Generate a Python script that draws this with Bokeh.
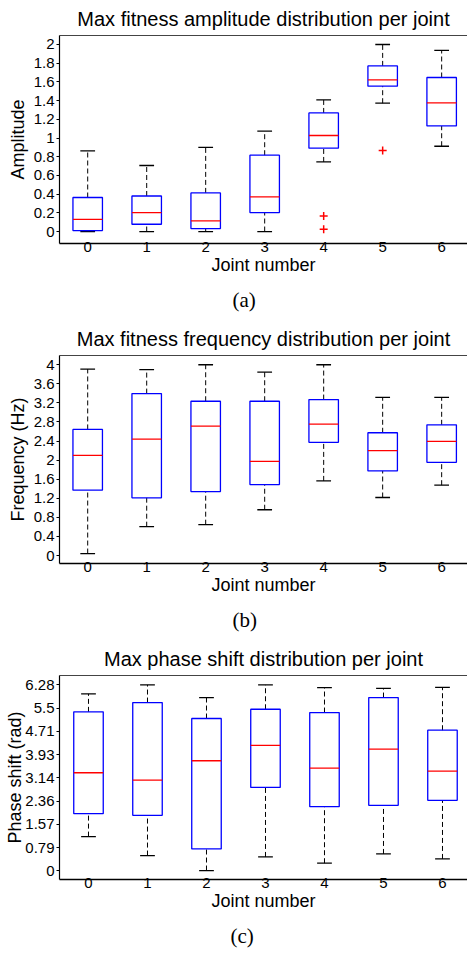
import numpy as np
from bokeh.plotting import figure
from bokeh.layouts import column
from bokeh.models import FixedTicker, LinearAxis, Title, Range1d
from bokeh.embed import file_html
from bokeh.resources import INLINE

joints = [0, 1, 2, 3, 4, 5, 6]

# (a) amplitude
amp_q1 = [0.010, 0.078, 0.032, 0.203, 0.891, 1.554, 1.129]
amp_med = [0.130, 0.203, 0.113, 0.370, 1.027, 1.622, 1.375]
amp_q3 = [0.364, 0.380, 0.413, 0.816, 1.268, 1.771, 1.647]
amp_lo = [0.000, 0.000, 0.000, 0.000, 0.744, 1.372, 0.912]
amp_hi = [0.862, 0.706, 0.900, 1.073, 1.408, 2.000, 1.936]
amp_out_x = [4, 4, 5]
amp_out_y = [0.167, 0.025, 0.866]
amp_ticks = [0, 0.2, 0.4, 0.6, 0.8, 1.0, 1.2, 1.4, 1.6, 1.8, 2.0]
amp_tick_labels = ["0", "0.2", "0.4", "0.6", "0.8", "1", "1.2", "1.4", "1.6", "1.8", "2"]

# (b) frequency
freq_q1 = [1.371, 1.210, 1.342, 1.488, 2.373, 1.774, 1.955]
freq_med = [2.101, 2.441, 2.713, 1.976, 2.755, 2.198, 2.393]
freq_q3 = [2.644, 3.395, 3.235, 3.235, 3.270, 2.574, 2.741]
freq_lo = [0.042, 0.605, 0.647, 0.960, 1.565, 1.217, 1.475]
freq_hi = [3.909, 3.896, 4.000, 3.846, 4.000, 3.318, 3.318]
freq_ticks = [0, 0.4, 0.8, 1.2, 1.6, 2.0, 2.4, 2.8, 3.2, 3.6, 4.0]
freq_tick_labels = ["0", "0.4", "0.8", "1.2", "1.6", "2", "2.4", "2.8", "3.2", "3.6", "4"]

# (c) phase shift
ph_q1 = [1.934, 1.877, 0.742, 2.821, 2.170, 2.214, 2.383]
ph_med = [3.316, 3.067, 3.721, 4.237, 3.472, 4.113, 3.370]
ph_q3 = [5.372, 5.686, 5.147, 5.460, 5.349, 5.855, 4.752]
ph_lo = [1.159, 0.519, 0.013, 0.472, 0.260, 0.573, 0.404]
ph_hi = [5.979, 6.283, 5.855, 6.283, 6.190, 6.168, 6.200]
ph_ticks = [0, 0.785, 1.571, 2.356, 3.142, 3.927, 4.712, 5.498, 6.283]
ph_tick_labels = ["0", "0.79", "1.57", "2.36", "3.14", "3.93", "4.71", "5.5", "6.28"]

FONT = "Liberation Sans"
W = 467


def make_panel(title, ylabel, sub, q1, med, q3, lo, hi, outx, outy,
               yticks, ylabels, yrange, xrange, height, top, bottom, left,
               sub_offset, ylabel_standoff):
    p = figure(width=W, height=height, output_backend="svg", toolbar_location=None,
               x_range=Range1d(*xrange), y_range=Range1d(*yrange),
               min_border_left=left, min_border_right=0,
               min_border_top=top, min_border_bottom=bottom,
               background_fill_color="white", border_fill_color="white")
    p.outline_line_color = None
    p.grid.visible = False

    x = np.array(joints, dtype=float)
    q1 = np.array(q1); q3 = np.array(q3); med = np.array(med)
    lo = np.array(lo); hi = np.array(hi)
    bw = 0.5
    cw = 0.25

    # whiskers
    p.segment(x0=x, x1=x, y0=q3, y1=hi, line_color="black", line_width=1, line_dash="5 3")
    p.segment(x0=x, x1=x, y0=lo, y1=q1, line_color="black", line_width=1, line_dash="5 3")
    # caps
    p.segment(x0=x - cw / 2, x1=x + cw / 2, y0=hi, y1=hi, line_color="black", line_width=1.3)
    p.segment(x0=x - cw / 2, x1=x + cw / 2, y0=lo, y1=lo, line_color="black", line_width=1.3)
    # boxes
    p.quad(left=x - bw / 2, right=x + bw / 2, bottom=q1, top=q3,
           fill_color=None, line_color="#0000ff", line_width=1.3)
    # medians
    p.segment(x0=x - bw / 2, x1=x + bw / 2, y0=med, y1=med, line_color="#ff0000", line_width=1.3)
    if outx:
        p.scatter(x=outx, y=outy, marker="cross", size=8, line_color="#ff0000", line_width=1.5)

    p.title.text = title
    p.title.align = "center"
    p.title.text_font = FONT
    p.title.text_font_size = "20px"
    p.title.text_font_style = "normal"
    p.title.text_color = "black"
    p.title.standoff = 11

    xa = p.below[0]
    ya = p.left[0]

    xa.ticker = FixedTicker(ticks=joints)
    xa.axis_label = "Joint number"
    xa.axis_label_text_font = FONT
    xa.axis_label_text_font_size = "18px"
    xa.axis_label_text_font_style = "normal"
    xa.axis_label_text_color = "black"
    xa.axis_label_standoff = 0
    xa.major_label_text_font = FONT
    xa.major_label_text_font_size = "15px"
    xa.major_label_text_color = "black"
    xa.major_label_standoff = -2
    xa.major_tick_out = 0
    xa.major_tick_in = 0
    xa.minor_tick_out = 0
    xa.minor_tick_in = 0
    xa.axis_line_color = "black"
    xa.axis_line_width = 1.4

    ya.ticker = FixedTicker(ticks=yticks)
    ya.major_label_overrides = {t: l for t, l in zip(yticks, ylabels)}
    ya.axis_label = ylabel
    ya.axis_label_text_font = FONT
    ya.axis_label_text_font_size = "18px"
    ya.axis_label_text_font_style = "normal"
    ya.axis_label_text_color = "black"
    ya.axis_label_standoff = ylabel_standoff
    ya.major_label_text_font = FONT
    ya.major_label_text_font_size = "15px"
    ya.major_label_text_color = "black"
    ya.major_label_standoff = 2
    ya.major_tick_out = 3
    ya.major_tick_in = 0
    ya.minor_tick_out = 0
    ya.minor_tick_in = 0
    ya.axis_line_color = "black"
    ya.axis_line_width = 1.2

    # top border line
    top_ax = LinearAxis(ticker=FixedTicker(ticks=[]), major_label_text_font_size="0px",
                        major_tick_out=0, major_tick_in=0, minor_tick_out=0, minor_tick_in=0,
                        major_label_standoff=0, axis_line_color="#444444", axis_line_width=1.2)
    p.add_layout(top_ax, "above")

    st = Title(text=sub, align="left", text_font="Liberation Serif", text_font_size="21px",
               text_font_style="normal", text_color="black", offset=sub_offset, standoff=17)
    p.add_layout(st, "below")
    return p


pa = make_panel("Max fitness amplitude distribution per joint", "Amplitude", "(a)",
                amp_q1, amp_med, amp_q3, amp_lo, amp_hi, amp_out_x, amp_out_y,
                amp_ticks, amp_tick_labels, (-0.128, 2.096), (-0.478, 6.438),
                320, 35, 77, 52, 173, 3)
pb = make_panel("Max fitness frequency distribution per joint", "Frequency (Hz)", "(b)",
                freq_q1, freq_med, freq_q3, freq_lo, freq_hi, [], [],
                freq_ticks, freq_tick_labels, (-0.167, 4.194), (-0.478, 6.438),
                320, 35, 76, 52, 173, 3)
pc = make_panel("Max phase shift distribution per joint", "Phase shift (rad)", "(c)",
                ph_q1, ph_med, ph_q3, ph_lo, ph_hi, [], [],
                ph_ticks, ph_tick_labels, (-0.29, 6.6), (-0.4915, 6.424),
                318, 35, 79, 59, 171, -3)

layout = column(pa, pb, pc, spacing=0)
open("out.html", "w").write(file_html(layout, INLINE))
